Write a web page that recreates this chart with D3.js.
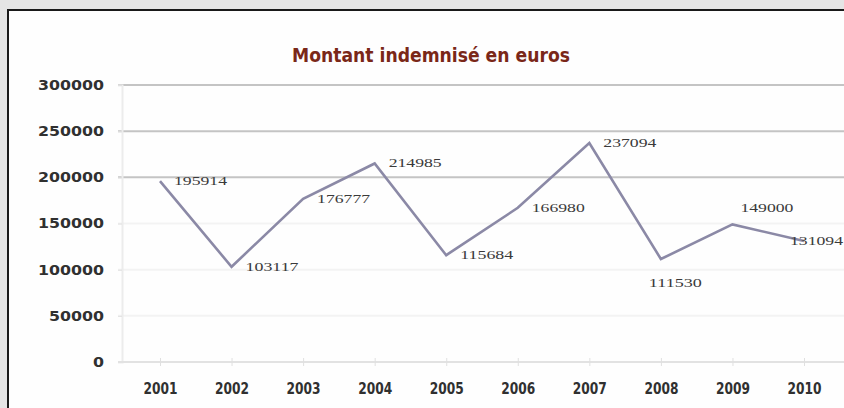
<!DOCTYPE html>
<html><head><meta charset="utf-8">
<script src="https://cdn.jsdelivr.net/npm/d3@7"></script>
<style>html,body{margin:0;padding:0;background:#e5e5e5;overflow:hidden}</style>
</head><body>
<svg id="c" width="844" height="408"></svg>
<script>
const years = ["2001","2002","2003","2004","2005","2006","2007","2008","2009","2010"];
const amounts = [195914,103117,176777,214985,115684,166980,237094,111530,149000,131094];
const yTicks = [0,50000,100000,150000,200000,250000,300000];
const labelPlacement = ["right","right","right","right","right","right","right","below","above","left"];
const title = "Montant indemnisé en euros";

const svg = d3.select("#c");
svg.append("rect").attr("x",0).attr("y",0).attr("width",844).attr("height",408).attr("fill","#e5e5e5");
svg.append("rect").attr("x",8).attr("y",10).attr("width",850).attr("height",410).attr("fill","#fefefe")
  .attr("stroke","#1a1a1a").attr("stroke-width",2);

const x = d3.scalePoint().domain(years).range([160,804]);
const y = d3.scaleLinear().domain([0,300000]).range([362,85]);

svg.append("g").selectAll("line").data(yTicks.filter(d=>d>0)).join("line")
  .attr("x1",118).attr("x2",844).attr("y1",d=>y(d)).attr("y2",d=>y(d))
  .attr("stroke",d=>d>=200000?"#c4c4c4":"#f3f3f3").attr("stroke-width",2);

const ya = svg.append("g").attr("transform","translate(122,0)")
  .call(d3.axisLeft(y).tickValues(yTicks).tickFormat(d3.format("d")).tickSize(4).tickPadding(14));
ya.select(".domain").attr("stroke","#ececec").attr("stroke-width",2);
ya.selectAll(".tick line").attr("stroke","#e0e0e0");
ya.selectAll("text").attr("font-family","DejaVu Sans").attr("font-size",14).attr("fill","#303030")
  .attr("font-weight","bold")
  .attr("textLength",d=>String(d).length*11).attr("lengthAdjust","spacingAndGlyphs");

const xa = svg.append("g").attr("transform","translate(0,362)")
  .call(d3.axisBottom(x).tickSize(4).tickPadding(17));
xa.select(".domain").attr("d","M118,0H844").attr("stroke","#e2e2e2").attr("stroke-width",2);
xa.selectAll(".tick line").attr("stroke","#e0e0e0").attr("y1",-4);
xa.selectAll("text").attr("font-family","DejaVu Sans").attr("font-size",15).attr("fill","#303030")
  .attr("font-weight","bold").attr("textLength",34).attr("lengthAdjust","spacingAndGlyphs");

const data = years.map((yr,i)=>({yr,v:amounts[i],p:labelPlacement[i]}));
svg.append("path").datum(data)
  .attr("d",d3.line().x(d=>x(d.yr)).y(d=>y(d.v)))
  .attr("fill","none").attr("stroke","#8b89a6").attr("stroke-width",2.6);

const dx = {right:14, below:-12, above:8, left:-14};
const dy = {right:4, below:28, above:-12, left:4};
svg.append("g").selectAll("text").data(data).join("text")
  .attr("x",d=>x(d.yr)+dx[d.p])
  .attr("y",d=>y(d.v)+dy[d.p])
  .attr("font-family","Liberation Serif").attr("font-size",13).attr("fill","#3a3a3a")
  .attr("textLength",53).attr("lengthAdjust","spacingAndGlyphs")
  .text(d=>d.v);

svg.append("text").attr("x",431).attr("y",62).attr("text-anchor","middle")
  .attr("font-family","DejaVu Sans").attr("font-stretch","condensed").attr("font-weight","bold")
  .attr("font-size",20).attr("fill","#7a2718")
  .attr("textLength",278).attr("lengthAdjust","spacingAndGlyphs")
  .text(title);
</script>
</body></html>
